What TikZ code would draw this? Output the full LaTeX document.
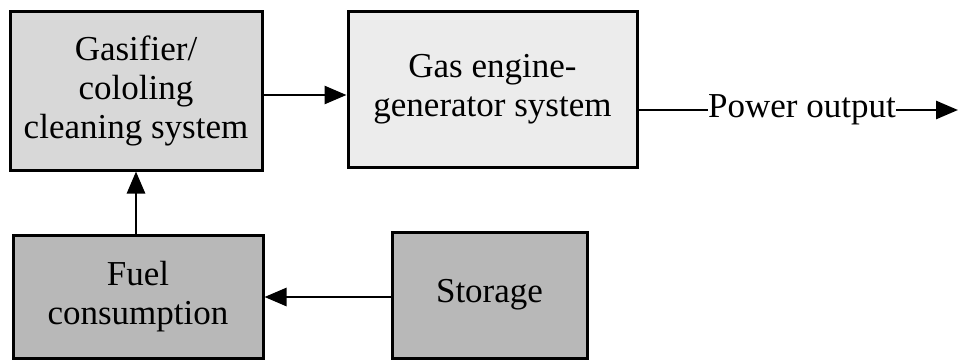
\documentclass[tikz,border=0pt]{standalone}
\usepackage{fontspec}
\setmainfont{Liberation Serif}
\usetikzlibrary{arrows.meta}
\definecolor{boxA}{HTML}{D8D8D8}
\definecolor{boxB}{HTML}{ECECEC}
\definecolor{boxC}{HTML}{B8B8B8}
\tikzset{
  blk/.style={draw=black, line width=3pt, align=center, inner sep=0pt,
    font=\fontsize{35}{39}\selectfont},
  conn/.style={line width=2.8pt, -{Triangle[length=22pt,width=18pt]}},
}
\begin{document}
\begin{tikzpicture}[x=1pt,y=-1pt]
\useasboundingbox (0,0) rectangle (959,361);
\node[blk, fill=boxA, minimum width=252pt, minimum height=158pt] (gas) at (136,91) {Gasifier/\\cololing\\cleaning system};
\node[blk, fill=boxB, minimum width=289pt, minimum height=155pt] (eng) at (492.5,89.5) {Gas engine-\\generator system};
\node[blk, fill=boxC, minimum width=250pt, minimum height=123pt] (fuel) at (138,296.5) {Fuel\\consumption};
\node[blk, fill=boxC, minimum width=195pt, minimum height=126pt] (sto) at (489.5,295) {Storage};
\node[font=\fontsize{35}{39}\selectfont, inner sep=0pt, anchor=west] (pow) at (708,110) {Power output};
\coordinate (tip) at (958,110);
\draw[conn] (gas.east |- 0,95) -- (eng.west |- 0,95);
\draw[line width=2.8pt] (eng.east |- pow.west) -- (pow.west);
\draw[conn] (pow.east) -- (tip);
\draw[conn] (sto.west |- 0,297) -- (fuel.east |- 0,297);
\draw[conn] (fuel.north -| 136,0) -- (gas.south -| 136,0);
\end{tikzpicture}
\end{document}
